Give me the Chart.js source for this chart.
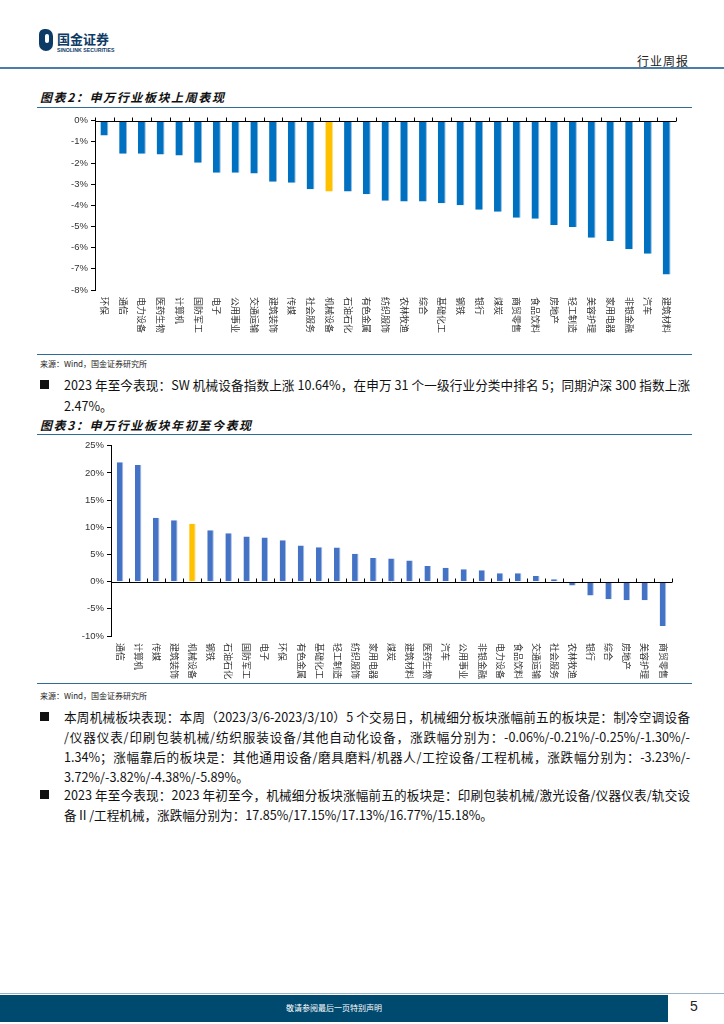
<!DOCTYPE html>
<html>
<head>
<meta charset="utf-8">
<script src="https://cdn.jsdelivr.net/npm/chart.js@4/dist/chart.umd.min.js"></script>
<style>
  body { margin: 0; width: 724px; height: 1024px; position: relative; background: #fff;
         font-family: "Noto Sans CJK SC", "DejaVu Sans", sans-serif; color: #111; overflow: hidden; }
  .abs { position: absolute; white-space: nowrap; }
  .title { font-size: 12px; font-weight: bold; font-style: italic; letter-spacing: 1.6px; left: 40px; }
  .rule { position: absolute; left: 37px; width: 655px; height: 0; border-top: 1.5px solid #2f6b97; }
  .src { font-size: 8px; left: 40px; color: #222; }
  .para { font-size: 12.6px; color: #111; }
  .full { width: 626px; text-align: justify; text-align-last: justify; }
  .bullet { position: absolute; left: 40px; width: 9px; height: 9px; background: #111; }
  canvas { position: absolute; }
</style>
</head>
<body>
<!-- header -->
<div class="abs" style="left:39px;top:29px;width:14px;height:22px;border-radius:6px 8px 8px 8px;background:#0d3b66;"></div>
<div class="abs" style="left:45px;top:34px;width:4px;height:9px;background:#fff;border-radius:2px;"></div>
<div class="abs" style="left:57px;top:31px;font-size:13px;line-height:16px;font-weight:bold;color:#0d3b66;">国金证券</div>
<div class="abs" style="left:57px;top:47px;font-size:5.2px;line-height:6px;font-weight:bold;color:#0d3b66;font-family:'Liberation Sans';">SINOLINK SECURITIES</div>
<div class="abs" style="left:637px;top:52px;font-size:12px;color:#222;letter-spacing:1px;">行业周报</div>
<div class="abs" style="left:0;top:67px;width:724px;height:2px;background:#4a7ea8;"></div>

<!-- chart 1 -->
<div class="abs title" style="top:88px;">图表2：申万行业板块上周表现</div>
<div class="rule" style="top:107px;"></div>
<canvas id="c1" width="655" height="240" style="left:37px;top:112px;"></canvas>
<div class="rule" style="top:354px;"></div>
<div class="abs src" style="top:358px;">来源：Wind，国金证券研究所</div>

<div class="bullet" style="top:380px;"></div>
<div class="abs para full" style="left:64px;top:375px;">2023 年至今表现：SW 机械设备指数上涨 10.64%，在申万 31 个一级行业分类中排名 5；同期沪深 300 指数上涨</div>
<div class="abs para" style="left:64px;top:396px;">2.47%。</div>

<!-- chart 2 -->
<div class="abs title" style="top:416px;">图表3：申万行业板块年初至今表现</div>
<div class="rule" style="top:434px;"></div>
<canvas id="c2" width="655" height="245" style="left:37px;top:437px;"></canvas>
<div class="rule" style="top:683px;"></div>
<div class="abs src" style="top:690px;">来源：Wind，国金证券研究所</div>

<div class="bullet" style="top:712px;"></div>
<div class="abs para full" style="left:64px;top:707px;">本周机械板块表现：本周（2023/3/6-2023/3/10）5 个交易日，机械细分板块涨幅前五的板块是：制冷空调设备</div>
<div class="abs para full" style="left:64px;top:727px;">/仪器仪表/印刷包装机械/纺织服装设备/其他自动化设备，涨跌幅分别为：-0.06%/-0.21%/-0.25%/-1.30%/-</div>
<div class="abs para full" style="left:64px;top:747px;">1.34%；涨幅靠后的板块是：其他通用设备/磨具磨料/机器人/工控设备/工程机械，涨跌幅分别为：-3.23%/-</div>
<div class="abs para" style="left:64px;top:767px;">3.72%/-3.82%/-4.38%/-5.89%。</div>

<div class="bullet" style="top:790px;"></div>
<div class="abs para full" style="left:64px;top:785px;">2023 年至今表现：2023 年初至今，机械细分板块涨幅前五的板块是：印刷包装机械/激光设备/仪器仪表/轨交设</div>
<div class="abs para" style="left:64px;top:805px;">备Ⅱ/工程机械，涨跌幅分别为：17.85%/17.15%/17.13%/16.77%/15.18%。</div>

<!-- footer -->
<div class="abs" style="left:0;top:993px;width:724px;height:1px;background:#9bb3c7;"></div>
<div class="abs" style="left:0;top:995px;width:668px;height:27px;background:#004a6f;"></div>
<div class="abs" style="left:0;top:1002px;width:668px;text-align:center;font-size:8px;color:#fff;">敬请参阅最后一页特别声明</div>
<div class="abs" style="left:690px;top:998px;font-size:14px;color:#222;font-family:'Liberation Sans';">5</div>

<script>
// chart 1: weekly performance (%)
const weekCats = ['环保','通信','电力设备','医药生物','计算机','国防军工','电子','公用事业','交通运输','建筑装饰','传媒','社会服务','机械设备','石油石化','有色金属','纺织服饰','农林牧渔','综合','基础化工','钢铁','银行','煤炭','商贸零售','食品饮料','房地产','轻工制造','美容护理','家用电器','非银金融','汽车','建筑材料'];
const weekVals = [-0.70,-1.56,-1.56,-1.60,-1.64,-1.99,-2.46,-2.46,-2.50,-2.88,-2.93,-3.24,-3.35,-3.35,-3.47,-3.78,-3.82,-3.82,-3.90,-3.99,-4.21,-4.30,-4.59,-4.63,-4.93,-5.02,-5.53,-5.69,-6.08,-6.29,-7.27];

// chart 2: year-to-date performance (%)
const ytdCats = ['通信','计算机','传媒','建筑装饰','机械设备','钢铁','石油石化','国防军工','电子','环保','有色金属','基础化工','轻工制造','纺织服饰','家用电器','煤炭','建筑材料','医药生物','汽车','公用事业','非银金融','电力设备','食品饮料','交通运输','社会服务','农林牧渔','银行','综合','房地产','美容护理','商贸零售'];
const ytdVals = [21.94,21.46,11.77,11.28,10.64,9.45,8.90,8.29,8.11,7.62,6.65,6.34,6.28,5.12,4.33,4.27,3.90,2.87,2.56,2.26,2.07,1.52,1.52,1.04,0.43,-0.73,-2.56,-3.23,-3.41,-3.41,-8.17];

const highlight = '机械设备';

const vLabels = {
  id: 'vLabels',
  afterDraw(chart) {
    const { ctx, chartArea, scales: { x, y } } = chart;
    const y0 = Math.round(y.getPixelForValue(0)) + 0.5;
    const n = chart.data.labels.length;
    const half = (x.getPixelForValue(1) - x.getPixelForValue(0)) / 2;
    ctx.save();
    ctx.strokeStyle = '#000';
    ctx.lineWidth = 1;
    ctx.beginPath();
    ctx.moveTo(chartArea.left, y0);
    ctx.lineTo(chartArea.right, y0);
    for (let i = 0; i <= n; i++) {
      const px = Math.round(x.getPixelForValue(i) - half) + 0.5;
      ctx.moveTo(px, y0);
      ctx.lineTo(px, y0 - 4);
    }
    ctx.stroke();
    ctx.fillStyle = '#333';
    ctx.font = '9px "Noto Sans CJK SC"';
    ctx.textAlign = 'left';
    ctx.textBaseline = 'middle';
    chart.data.labels.forEach((lab, i) => {
      ctx.save();
      ctx.translate(x.getPixelForValue(i), chartArea.bottom + 7);
      ctx.rotate(Math.PI / 2);
      ctx.fillText(lab, 0, 0);
      ctx.restore();
    });
    ctx.restore();
  }
};

function makeChart(id, cats, vals, color, edge, opts) {
  return new Chart(document.getElementById(id), {
    type: 'bar',
    data: {
      labels: cats,
      datasets: [{
        data: vals,
        backgroundColor: cats.map(c => c === highlight ? '#ffc000' : color),
        borderColor: cats.map(c => c === highlight ? '#ffe08a' : edge),
        borderWidth: { left: 0, right: 1, top: 0, bottom: 0 },
        borderSkipped: false,
        barPercentage: opts.barPct,
        categoryPercentage: 1
      }]
    },
    options: {
      responsive: false,
      animation: false,
      devicePixelRatio: 1,
      layout: { padding: opts.padding },
      plugins: { legend: { display: false }, tooltip: { enabled: false } },
      scales: {
        x: { display: false },
        y: {
          min: opts.min, max: opts.max,
          afterFit: s => { s.width = opts.yWidth; },
          border: { color: '#000', width: 1 },
          grid: { drawOnChartArea: false, color: '#000', tickLength: 4 },
          ticks: {
            stepSize: opts.step,
            padding: 3,
            color: '#333',
            font: { family: 'Liberation Sans', size: 9.5 },
            callback: v => v + '%'
          }
        }
      }
    },
    plugins: [vLabels]
  });
}

makeChart('c1', weekCats, weekVals, '#0070c0', '#8db8e0', {
  min: -8, max: 0, step: 1, yWidth: 58, barPct: 0.42,
  padding: { top: 7, bottom: 62, right: 16, left: 0 }
});
makeChart('c2', ytdCats, ytdVals, '#4472c4', '#a9bfe6', {
  min: -10, max: 25, step: 5, yWidth: 74, barPct: 0.36,
  padding: { top: 7, bottom: 46, right: 20, left: 0 }
});
</script>
</body>
</html>
